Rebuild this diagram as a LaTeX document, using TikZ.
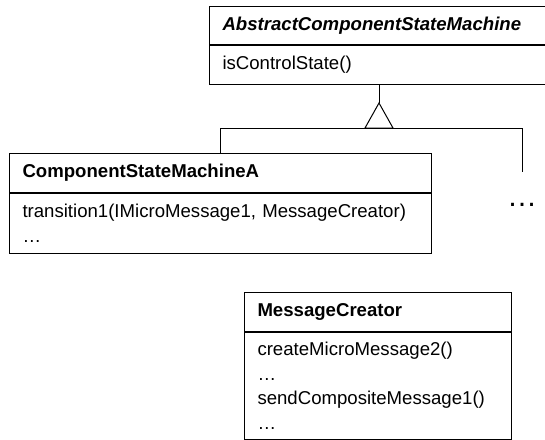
\documentclass[tikz,border=0pt]{standalone}
\usepackage{fontspec}
\setmainfont{Liberation Sans}
\usetikzlibrary{positioning}

\begin{document}
\begin{tikzpicture}[x=1pt,y=-1pt,line width=1pt,
	classhead/.style={draw,rectangle,inner xsep=13pt,inner ysep=0pt,align=left,
		font=\fontsize{18.6}{24}\selectfont\bfseries},
	classbody/.style={draw,rectangle,inner xsep=13pt,inner ysep=0pt,align=left,
		font=\fontsize{18.6}{24.5}\selectfont}]
	\useasboundingbox (0,0) rectangle (545,439);
	
	% abstract class
	\node[classhead,text width=311pt,minimum height=38pt,anchor=north west] (abshead) at (209,6) {\itshape AbstractComponentStateMachine};
	\node[classbody,text width=311pt,minimum height=39pt,below=0pt of abshead] (absbody) {isControlState()};
	
	% subclass A
	\node[classhead,text width=396pt,minimum height=39pt,anchor=north west] (csmhead) at (9,153) {ComponentStateMachineA};
	\node[classbody,text width=396pt,minimum height=60pt,below=0pt of csmhead] (csmbody) {transition1(IMicroMessage1, MessageCreator)\\\dots};
	
	% message creator
	\node[classhead,text width=241pt,minimum height=39pt,anchor=north west] (mchead) at (244,292) {MessageCreator};
	\node[classbody,text width=241pt,minimum height=107pt,below=0pt of mchead] (mcbody) {createMicroMessage2()\\\dots\\sendCompositeMessage1()\\\dots};
	
	% generalization
	\coordinate (apex) at (379,103);
	\coordinate (bus) at (379,128);
	\coordinate (more) at (522,172);
	\draw (absbody.south -| apex) -- (apex);
	\draw (apex) -- ++(-14,25) -- ++(28,0) -- cycle;
	\draw (csmhead.north) |- (more |- bus) -- (more);
	\node[anchor=base,inner sep=0pt,font=\fontsize{30}{30}\selectfont] (moredots) at (522,206) {\dots};
\end{tikzpicture}
\end{document}
